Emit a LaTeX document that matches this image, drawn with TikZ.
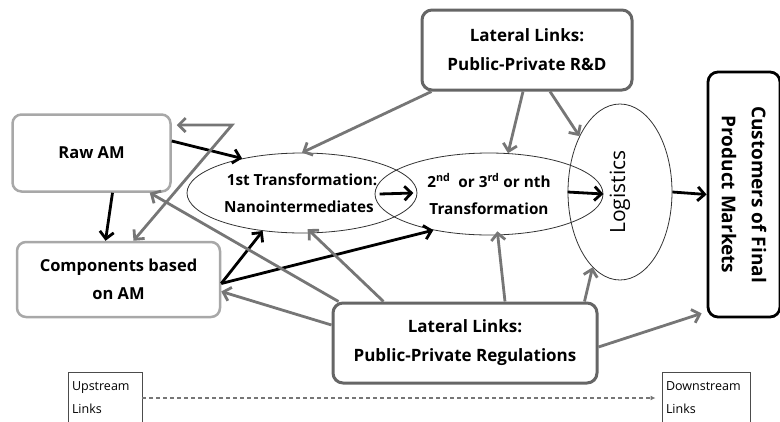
\documentclass[tikz,border=0pt]{standalone}
\usepackage{fontspec}
\setmainfont{Open Sans}
\usetikzlibrary{arrows.meta,shapes.geometric}

\definecolor{lnkgray}{RGB}{118,118,118}
\definecolor{boxlight}{RGB}{168,168,168}
\definecolor{boxdark}{RGB}{102,102,102}

\tikzset{
  softbox/.style={draw=boxlight, line width=2.5pt, rounded corners=9pt, fill=white,
    align=center, font=\bfseries\fontsize{16.5}{28}\selectfont},
  linkbox/.style={draw=boxdark, line width=3pt, rounded corners=10pt, fill=white,
    align=center, font=\bfseries\fontsize{17}{29}\selectfont},
  oval/.style={ellipse, draw=black!80, line width=0.8pt, inner sep=0pt,
    align=center, font=\bfseries\fontsize{15.3}{27}\selectfont},
  legbox/.style={draw=black!70, line width=0.9pt, text width=66pt, inner xsep=4pt,
    align=left, font=\fontsize{12.5}{23}\selectfont},
  blk/.style={-{Straight Barb[length=7pt,width=14pt]}, line width=2.8pt, black},
  gry/.style={-{Straight Barb[length=7pt,width=14pt]}, line width=2.8pt, lnkgray},
}

\begin{document}
\begin{tikzpicture}[x=1pt,y=-1pt]
  \useasboundingbox (0,0) rectangle (780,421);

  % Upstream boxes
  \node[softbox, minimum width=158pt, minimum height=77pt] (raw) at (91.5,153) {Raw AM};
  \node[softbox, minimum width=203pt, minimum height=75pt] (comp) at (118.5,279.5) {Components based\\on AM};

  % Transformation ovals
  \node[oval, minimum width=230pt, minimum height=80pt] (first) at (302,193) {1st Transformation:\\Nanointermediates\hspace*{6pt}};
  \node[oval, minimum width=228pt, minimum height=82pt] (second) at (489,194) {2\textsuperscript{nd}\ \ or 3\textsuperscript{rd} or nth\\Transformation};
  \node[oval, minimum width=104pt, minimum height=176pt] (logi) at (620,192) {};
  \node[rotate=90, font=\fontsize{21}{24}\selectfont] (logitxt) at (logi) {Logistics};

  % Final customers
  \node[draw=black, line width=2.8pt, rounded corners=10pt, minimum width=72pt, minimum height=245pt] (cust) at (744,194.5) {};
  \node[rotate=-90, align=center, font=\bfseries\fontsize{19}{30}\selectfont] (custtxt) at (cust) {Customers of Final\\Product Markets};

  % Lateral links
  \node[linkbox, minimum width=210pt, minimum height=80pt] (rnd) at (527,50) {Lateral Links:\\Public-Private R\&D};
  \node[linkbox, minimum width=264pt, minimum height=80pt] (reg) at (465,343) {Lateral Links:\\Public-Private Regulations};

  % Legend
  \node[legbox, minimum height=52pt] (up) at (105,398) {Upstream\\Links};
  \node[legbox, text width=80pt, minimum height=52pt] (down) at (706,398) {Downstream\\Links};

  % Black flows
  \draw[blk] ([yshift=12pt]raw.east) -- (first.150);
  \draw[blk] ([xshift=21pt]raw.south) -- ([xshift=-13pt]comp.north);
  \draw[blk] ([yshift=-4pt]comp.east) -- (first.224);
  \draw[blk] ([yshift=-4pt]comp.east) -- (second.213);
  \draw[blk] ([xshift=5pt]second.west) -- ([xshift=-4pt]first.east);
  \draw[blk] (logi.west) -- (second.east);
  \draw[blk] (logi.east) -- (cust.west);

  % Gray links
  \coordinate (zig) at (232,125);
  \draw[gry, {Straight Barb[length=7pt,width=14pt]}-{Straight Barb[length=7pt,width=14pt]}]
    ([xshift=5pt]raw.east |- zig) -- (zig) -- ([xshift=15pt]comp.north);
  \draw[gry] ([xshift=11pt]rnd.south west) -- (first.north);
  \draw[gry] ([xshift=-4pt]rnd.south) -- (second.65);
  \draw[gry] ([xshift=23pt]rnd.south) -- (logi.126);
  \draw[gry] ([xshift=7pt]reg.north west) -- ([xshift=-22pt]raw.south east);
  \draw[gry, shorten >=-6pt] ([xshift=52pt]reg.north west) -- (first.-76);
  \draw[gry, shorten >=-4pt] ([xshift=40pt]reg.north) -- (second.-78);
  \draw[gry] ([xshift=-14pt]reg.north east) -- (logi.250);
  \draw[gry] ([yshift=-4pt]reg.east) -- ([shift={(-5pt,5pt)}]cust.south west);
  \draw[gry] ([yshift=18pt]reg.west) -- ([yshift=-12pt]comp.east);

  % Upstream to downstream
  \draw[lnkgray, line width=1.2pt, dash pattern=on 4pt off 3pt, -{Latex[length=5pt,width=5pt]}, shorten >=6pt] (up.east) -- (down.west);
\end{tikzpicture}
\end{document}
